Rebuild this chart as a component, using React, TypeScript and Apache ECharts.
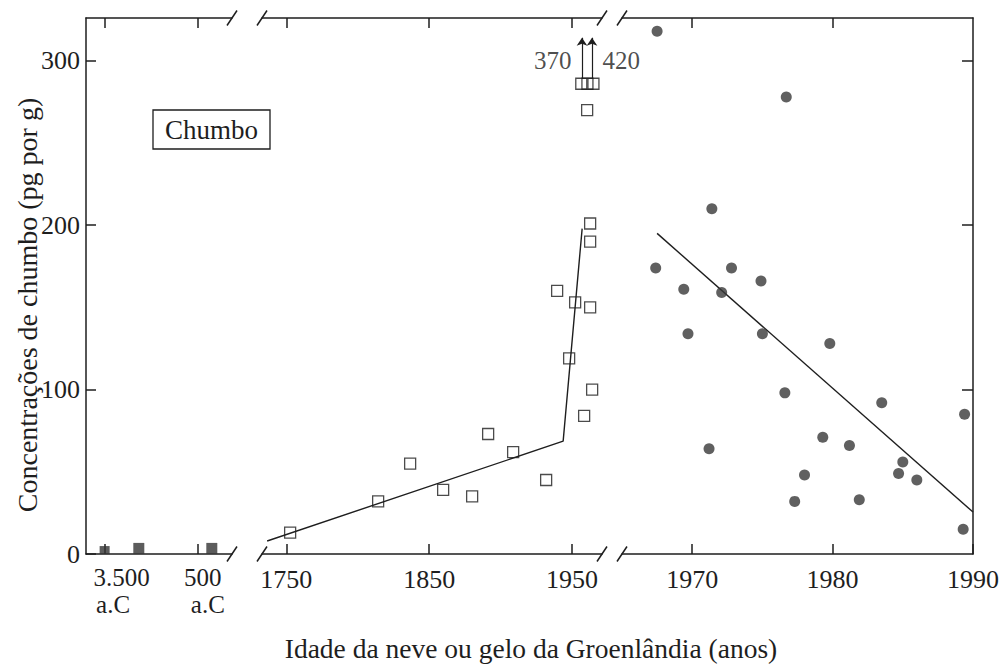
import React, { useEffect, useRef } from 'react';
import * as echarts from 'echarts';

const FONT = "'Liberation Serif', 'Times New Roman', serif";
const INK = '#1e1e1e';

// ---- data ----
const leadTicks = [0, 100, 200, 300];

// ancient samples (negative = a.C)
const ancientTicks = [-3500, -500];
const ancientYears = [-3500, -2400, -50];
const ancientLead = [2.4, 3.4, 3.4];

// 1750-1960 samples (open squares)
const preTicks = [1750, 1850, 1950];
const preYears = [1752.7, 1814.3, 1836.7, 1859.8, 1880.1, 1891.3, 1908.8, 1931.9, 1939.6, 1948, 1952.2, 1958.5, 1962.7, 1962.7, 1962.7, 1964.1, 1960.6];
const preLead = [13, 32, 55, 39, 35, 73, 62, 45, 160, 119, 153, 84, 201, 190, 150, 100, 270];
const clippedYears = [1956.5, 1960.8, 1965];
const clipLevel = 286;
const offscaleYears = [1957, 1964];
const offscaleLead = [370, 420];
const preTrendYears = [1736.6, 1943.8, 1957.1];
const preTrendLead = [7.9, 68.6, 197.9];

// 1965-1990 samples (filled dots)
const postTicks = [1970, 1980, 1990];
const postYears = [1967.5, 1976.7, 1971.4, 1967.4, 1969.4, 1972.8, 1972.1, 1974.9, 1969.7, 1975, 1979.8, 1976.6, 1983.5, 1989.4, 1971.2, 1979.3, 1981.2, 1978, 1985, 1984.7, 1986, 1977.3, 1981.9, 1989.3];
const postLead = [318, 278, 210, 174, 161, 174, 159, 166, 134, 134, 128, 98, 92, 85, 64, 71, 66, 48, 56, 49, 45, 32, 33, 15];
const postTrendYears = [1967.5, 1990];
const postTrendLead = [195, 25.5];

const zip = (xs: number[], ys: number[]) => xs.map((x, i) => [x, ys[i]]);

const fmtThousands = (n: number) => String(n).replace(/\B(?=(\d{3})+(?!\d))/g, '.');

export default function App() {
  const ref = useRef<HTMLDivElement>(null);
  useEffect(() => {
    if (!ref.current) return;
    const chart = echarts.init(ref.current, undefined, { renderer: 'svg' });
    const lineStyle = { color: INK, width: 1.5 };
    const labelBase = { fontFamily: FONT, fontSize: 26, color: INK };
    const plain = (v: number) => String(v);
    const xAx = (grid: number, min: number, max: number, ticks: number[], pos: 'top' | 'bottom', extraLabel?: any) => ({
      type: 'value', gridIndex: grid, position: pos, min, max,
      axisLine: { show: true, onZero: false, lineStyle },
      axisTick: { show: true, inside: true, length: 10, customValues: ticks, lineStyle },
      axisLabel: pos === 'bottom'
        ? { show: true, customValues: ticks, margin: 12, formatter: plain, ...labelBase, ...(extraLabel || {}) }
        : { show: false },
      splitLine: { show: false },
    });
    const YMAX = 326;
    const richBase = { fontFamily: FONT, fontSize: 25, color: INK, lineHeight: 27 };
    const ancientRich = {
      a0: { ...richBase, padding: [0, 0, 0, 34] },
      b0: { ...richBase, padding: [0, 0, 0, 17] },
      a1: { ...richBase, padding: [0, 0, 0, 10] },
      b1: { ...richBase, padding: [0, 0, 0, 20] },
    };
    const slashes: any[] = [];
    [232, 262, 602, 622].forEach((x) => {
      [18, 554].forEach((y) => {
        slashes.push({
          type: 'line',
          shape: { x1: x - 5, y1: y + 7.5, x2: x + 5, y2: y - 7.5 },
          style: { stroke: INK, lineWidth: 1.5 },
          z: 100,
        });
      });
    });
    const option: any = {
      animation: false,
      backgroundColor: '#fff',
      textStyle: { fontFamily: FONT },
      grid: [
        { left: 86, top: 18, width: 146, height: 536 },
        { left: 262, top: 18, width: 340, height: 536 },
        { left: 622, top: 18, width: 351, height: 536 },
      ],
      xAxis: [
        xAx(0, -4100, 600, ancientTicks, 'bottom', {
          margin: 10,
          formatter: (v: number) => {
            const i = ancientTicks.indexOf(v);
            return `{a${i}|${fmtThousands(Math.abs(v))}}\n{b${i}|a.C}`;
          },
          rich: ancientRich,
        }),
        xAx(1, 1733, 1971, preTicks, 'bottom'),
        xAx(2, 1965, 1990, postTicks, 'bottom'),
        xAx(0, -4100, 600, ancientTicks, 'top'),
        xAx(1, 1733, 1971, preTicks, 'top'),
        xAx(2, 1965, 1990, postTicks.slice(0, 2), 'top'),
      ],
      yAxis: [
        {
          type: 'value', gridIndex: 0, min: 0, max: YMAX, position: 'left',
          axisLine: { show: true, onZero: false, lineStyle },
          axisTick: { show: true, inside: true, length: 10, customValues: leadTicks, lineStyle },
          axisLabel: { show: true, customValues: leadTicks, margin: 6, formatter: plain, ...labelBase },
          splitLine: { show: false },
        },
        { type: 'value', gridIndex: 1, min: 0, max: YMAX, show: false },
        {
          type: 'value', gridIndex: 2, min: 0, max: YMAX, position: 'right',
          axisLine: { show: true, onZero: false, lineStyle },
          axisTick: { show: true, inside: true, length: 11, customValues: leadTicks.slice(1), lineStyle },
          axisLabel: { show: false },
          splitLine: { show: false },
        },
      ],
      series: [
        {
          type: 'scatter', xAxisIndex: 0, yAxisIndex: 0,
          data: zip(ancientYears, ancientLead),
          symbol: 'rect',
          symbolSize: (_v: any, p: any) => (p.dataIndex === 0 ? [10, 8] : [11, 11]),
          itemStyle: { color: '#333' },
          silent: true,
        },
        {
          type: 'line', xAxisIndex: 1, yAxisIndex: 1,
          data: zip(preTrendYears, preTrendLead),
          symbol: 'none', showSymbol: false,
          lineStyle: { color: INK, width: 1.4 },
          silent: true, z: 3,
        },
        {
          type: 'scatter', xAxisIndex: 1, yAxisIndex: 1,
          data: zip(preYears, preLead),
          symbol: 'rect', symbolSize: 11,
          itemStyle: { color: 'rgba(0,0,0,0)', borderColor: INK, borderWidth: 1.3 },
          silent: true, z: 4,
        },
        {
          type: 'scatter', xAxisIndex: 1, yAxisIndex: 1,
          data: clippedYears.map((y) => [y, clipLevel]),
          symbol: 'rect', symbolSize: 11,
          itemStyle: { color: 'rgba(0,0,0,0)', borderColor: INK, borderWidth: 1.3 },
          silent: true, z: 4,
          markLine: {
            silent: true,
            symbol: ['none', 'arrow'],
            symbolSize: 8,
            label: { show: false },
            lineStyle: { color: INK, width: 1.2, type: 'solid' },
            data: offscaleYears.map((y) => [{ coord: [y, clipLevel + 3] }, { coord: [y, 314] }]),
          },
        },
        {
          type: 'scatter', xAxisIndex: 1, yAxisIndex: 1,
          data: offscaleYears.map((y, i) => ({
            value: [y, 300],
            name: String(offscaleLead[i]),
            label: { position: i === 0 ? 'left' : 'right' },
          })),
          symbolSize: 1,
          itemStyle: { color: 'rgba(0,0,0,0)' },
          label: { show: true, formatter: '{b}', distance: 10, fontFamily: FONT, fontSize: 25, color: INK },
          silent: true,
        },
        {
          type: 'line', xAxisIndex: 2, yAxisIndex: 2,
          data: zip(postTrendYears, postTrendLead),
          symbol: 'none', showSymbol: false,
          lineStyle: { color: INK, width: 1.4 },
          silent: true, z: 3,
        },
        {
          type: 'scatter', xAxisIndex: 2, yAxisIndex: 2,
          data: zip(postYears, postLead),
          symbol: 'circle', symbolSize: 11,
          itemStyle: { color: '#383838' },
          silent: true, z: 4,
        },
      ],
      graphic: [
        ...slashes,
        {
          type: 'rect',
          shape: { x: 153, y: 110, width: 117, height: 39 },
          style: { fill: 'none', stroke: INK, lineWidth: 1.3 },
        },
        {
          type: 'text', x: 211.5, y: 130,
          style: { text: 'Chumbo', fontFamily: FONT, fontSize: 27, fill: INK, align: 'center', verticalAlign: 'middle', textAlign: 'center', textVerticalAlign: 'middle' },
        },
        {
          type: 'text', x: 531, y: 648,
          style: { text: 'Idade da neve ou gelo da Groenlândia (anos)', fontFamily: FONT, fontSize: 27.5, fill: INK, align: 'center', verticalAlign: 'middle', textAlign: 'center', textVerticalAlign: 'middle' },
        },
        {
          type: 'text', x: 27, y: 305, rotation: Math.PI / 2,
          style: { text: 'Concentrações de chumbo (pg por g)', fontFamily: FONT, fontSize: 28, fill: INK, align: 'center', verticalAlign: 'middle', textAlign: 'center', textVerticalAlign: 'middle' },
        },
      ],
    };
    chart.setOption(option);
    return () => chart.dispose();
  }, []);
  return (
    <div
      ref={ref}
      style={{ position: 'absolute', left: 0, top: 0, width: 1006, height: 664, background: '#fff' }}
    />
  );
}
